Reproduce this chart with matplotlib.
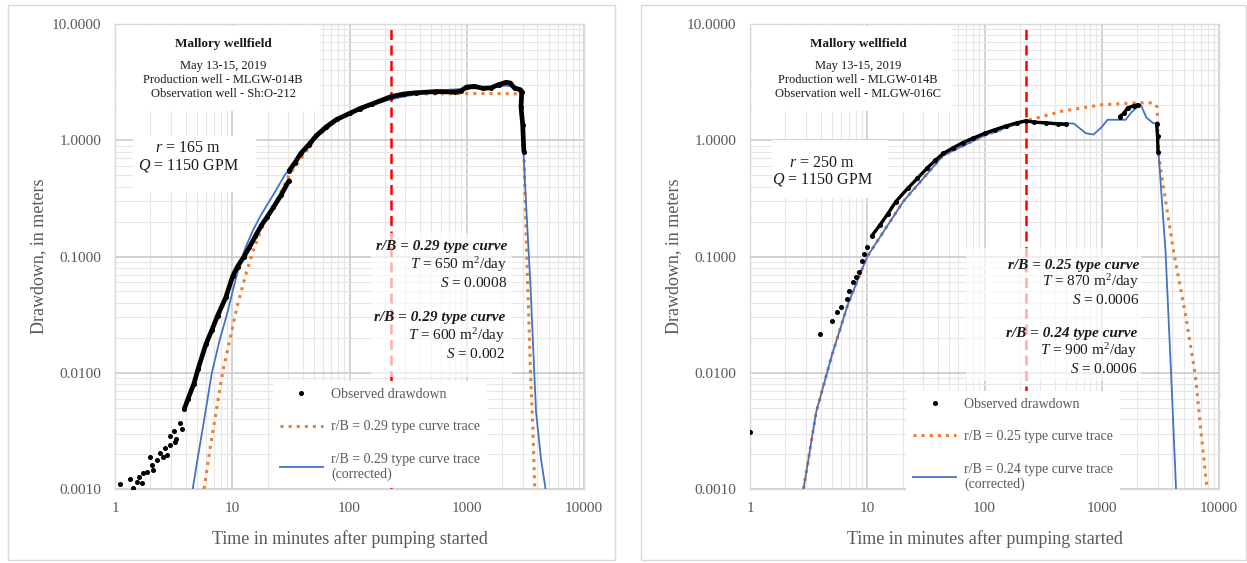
import numpy as np
import matplotlib
matplotlib.use("Agg")
import matplotlib.pyplot as plt
from matplotlib.patches import Rectangle
from matplotlib.lines import Line2D
from matplotlib.ticker import LogLocator, FixedLocator, FuncFormatter, NullFormatter

plt.rcParams['font.family'] = ['Liberation Serif', 'DejaVu Serif']
plt.rcParams['mathtext.fontset'] = 'custom'
plt.rcParams['mathtext.rm'] = 'Liberation Serif'
plt.rcParams['mathtext.it'] = 'Liberation Serif:italic'
plt.rcParams['mathtext.bf'] = 'Liberation Serif:bold'

# ---------------- DATA: left panel (Sh:O-212) ----------------
left_obs_early_t = [1.10, 1.34, 1.42, 1.54, 1.60, 1.70, 1.73, 1.87, 1.97, 2.07, 2.11, 2.28,
                    2.42, 2.57, 2.67, 2.78, 2.94, 2.96, 3.20, 3.25, 3.33, 3.60, 3.74]
left_obs_early_s = [0.00110, 0.00122, 0.00102, 0.00115, 0.00127, 0.00113, 0.00137, 0.00140,
                    0.00188, 0.00161, 0.00146, 0.00177, 0.00204, 0.00188, 0.00225, 0.00196,
                    0.00239, 0.00285, 0.00318, 0.00254, 0.00270, 0.00366, 0.00330]
left_obs_t = [3.9, 4.2, 4.7, 5.1, 5.96, 6.7, 7.5, 8.8, 10.1, 11.1, 12.5, 14.0, 15.7, 17.7,
              19.9, 22.4, 26.1, 30.5, np.nan,
              30.5, 34.2, 38.4, 45, 52.3, 63.6, 77.6, 100, 122, 155, 225, 290, 366, 540,
              795, 890, 1000, 1160, 1370, 1600, 1870, 2160, 2350, 2560, 2850, 2950, 2900,
              3000, 3070]
left_obs_s = [0.00487, 0.0060, 0.0080, 0.0107, 0.0176, 0.0233, 0.031, 0.0444, 0.068, 0.082,
              0.0986, 0.12, 0.149, 0.185, 0.22, 0.264, 0.338, 0.45, np.nan,
              0.546, 0.64, 0.77, 0.918, 1.10, 1.31, 1.51, 1.70, 1.87, 2.05, 2.37, 2.50, 2.56,
              2.62, 2.60, 2.66, 2.87, 2.91, 2.80, 2.82, 3.01, 3.15, 3.11, 2.80, 2.73, 2.62,
              1.94, 1.36, 0.80]
left_orange_t = [5.75, 6.45, 7.25, 8.26, 9.5, 11.1, 13.2, 15.1, 17.7, 22.4, 30.5, 38.4, 52.3,
                 77.6, 100, 155, 225, 340, 540, 1000, 2000, 2900, 3000, 3070, 3150, 3240,
                 3370, 3500, 3670, 3800]
left_orange_s = [0.001, 0.0022, 0.0045, 0.010, 0.0189, 0.0385, 0.073, 0.112, 0.172, 0.264,
                 0.50, 0.69, 1.06, 1.51, 1.72, 2.07, 2.37, 2.49, 2.51, 2.52, 2.52, 2.50, 1.36,
                 0.83, 0.30, 0.11, 0.033, 0.010, 0.0032, 0.001]
left_blue_t = [4.6, 5.1, 5.75, 6.7, 7.8, 9.1, 10.3, 11.5, 13.0, 15.1, 17.7, 22.4, 28.0, 38.4,
               52.3, 77.6, 100, 155, 225, 366, 540, 1000, 1600, 2160, 2560, 2850, 3000, 3070,
               3240, 3500, 3720, 3900, 4300, 4700]
left_blue_s = [0.001, 0.0019, 0.0039, 0.010, 0.019, 0.033, 0.055, 0.084, 0.12, 0.17, 0.23,
               0.34, 0.50, 0.74, 1.06, 1.46, 1.68, 2.00, 2.25, 2.49, 2.68, 2.77, 2.85, 2.95,
               2.87, 2.77, 1.36, 0.67, 0.23, 0.055, 0.0132, 0.0046, 0.0018, 0.001]

# ---------------- DATA: right panel (MLGW-016C) ----------------
right_obs_t = [1.0, 3.97, 5.0, 5.5, 5.97, 6.7, 7.0, 7.5, 8.0, 8.5, 9.0, 9.3, 10.0]
right_obs_s = [0.0031, 0.0217, 0.0277, 0.033, 0.037, 0.0435, 0.050, 0.060, 0.067, 0.074,
               0.092, 0.105, 0.120]
right_obs_dense_t = [10.9, 12.8, 14.9, 17.5, 22.1, 26.8, 32.6, 38, 44.4, 54, 65.5, 79.6, 100.6,
                     122, 154, 188, 225, 266, 336, 425, 497, np.nan,
                     1420, 1540, 1665, 1870, 2020, np.nan,
                     2940, 2990, 3020]
right_obs_dense_s = [0.150, 0.186, 0.231, 0.296, 0.385, 0.47, 0.58, 0.67, 0.77, 0.86, 0.956,
                     1.04, 1.15, 1.23, 1.33, 1.41, 1.47, 1.43, 1.41, 1.38, 1.37, np.nan,
                     1.60, 1.70, 1.90, 1.98, 2.02, np.nan,
                     1.38, 1.08, 0.80]
right_orange_t = [2.86, 3.67, 5.0, 6.85, 10, 20.4, 44.4, 100, 225, 310, 460, 1000, 2000,
                  2750, 2970, 3050, 3200, 4100, 5200, 6300, 7000, 7900]
right_orange_s = [0.001, 0.0046, 0.0142, 0.039, 0.10, 0.30, 0.74, 1.10, 1.47, 1.60, 1.78,
                  2.02, 2.10, 2.10, 1.93, 0.77, 0.54, 0.11, 0.031, 0.0093, 0.0032, 0.001]
right_blue_t = [2.86, 3.67, 5.0, 6.85, 10, 20.4, 44.4, 100, 225, 310, 580, 730, 850, 1000,
                1120, 1360, 1600, 1800, 2000, 2160, 2400, 2750, 2940, 3050, 3500, 3950, 4300]
right_blue_s = [0.001, 0.0046, 0.0142, 0.039, 0.10, 0.30, 0.74, 1.10, 1.47, 1.43, 1.39, 1.15,
                1.12, 1.30, 1.50, 1.50, 1.50, 1.75, 1.92, 2.00, 1.57, 1.40, 1.40, 0.78, 0.11,
                0.0075, 0.001]

marker_time = 225
x_ticks = [1, 10, 100, 1000, 10000]
x_tick_labels = ['1', '10', '100', '1000', '10000']
y_ticks = [0.001, 0.01, 0.1, 1, 10]

panels = [
    dict(left_px=115, obs_early=(left_obs_early_t, left_obs_early_s),
         obs=(left_obs_t, left_obs_s), obs_lw=3.4,
         orange=(left_orange_t, left_orange_s), blue=(left_blue_t, left_blue_s),
         obs_well='Observation well - Sh:O-212', r_text=r'$r$ = $\mathit{165}$ m',
         blocks=[(r'r/B = 0.29 type curve', r'$T$ = 650 m$^2$/day', r'$S$ = 0.0008'),
                 (r'r/B = 0.29 type curve', r'$T$ = 600 m$^2$/day', r'$S$ = 0.002')],
         orange_lbl='r/B = 0.29 type curve trace',
         blue_lbl='r/B = 0.29 type curve trace\n(corrected)',
         title_c=(223, 44), rq_c=(188, 148, 166), ann_x=(507, 505),
         ann_y=(247, 265, 283, 318, 336, 354),
         title_box=(117, 26, 320, 111), rq_box=(133, 136, 256, 192),
         ann_box=(371, 233, 512, 377), leg=(0.322, 0.247), panel_px=(8, 5, 615, 560)),
    dict(left_px=750, obs_early=(right_obs_t, right_obs_s),
         obs=(right_obs_dense_t, right_obs_dense_s), obs_lw=2.4,
         orange=(right_orange_t, right_orange_s), blue=(right_blue_t, right_blue_s),
         obs_well='Observation well - MLGW-016C', r_text=r'$r$ = $\mathit{250}$ m',
         blocks=[(r'r/B = 0.25 type curve', r'$T$ = 870 m$^2$/day', r'$S$ = 0.0006'),
                 (r'r/B = 0.24 type curve', r'$T$ = 900 m$^2$/day', r'$S$ = 0.0006')],
         orange_lbl='r/B = 0.25 type curve trace',
         blue_lbl='r/B = 0.24 type curve trace\n(corrected)',
         title_c=(858, 44), rq_c=(822, 163, 180), ann_x=(1139, 1137),
         ann_y=(265, 282, 300, 334, 351, 369),
         title_box=(752, 26, 952, 111), rq_box=(772, 140, 888, 198),
         ann_box=(966, 248, 1141, 381), leg=(0.318, 0.226), panel_px=(641, 5, 1246, 560)),
]

W, H = 1247, 563
fig = plt.figure(figsize=(W / 100, H / 100), dpi=100)
fig.patch.set_facecolor('white')

AX_W, AX_TOP, AX_BOT = 469, 24, 489
AX_H = AX_BOT - AX_TOP
gray = '#595959'

for p in panels:
    x0, y0, x1, y1 = p['panel_px']
    fig.patches.append(Rectangle((x0 / W, 1 - y1 / H), (x1 - x0) / W, (y1 - y0) / H,
                                 transform=fig.transFigure, facecolor='none',
                                 edgecolor='#d9d9d9', lw=1.0, zorder=0))
    L = p['left_px']
    ax = fig.add_axes([L / W, 1 - AX_BOT / H, AX_W / W, AX_H / H])

    def fx(px, L=L):
        return (px - L) / AX_W

    def fy(py):
        return 1 - (py - AX_TOP) / AX_H

    ax.set_xscale('log')
    ax.set_yscale('log')
    ax.set_xlim(1, 10000)
    ax.set_ylim(0.001, 10)
    ax.set_axisbelow(True)
    ax.xaxis.set_major_locator(FixedLocator(x_ticks))
    ax.set_xticklabels(x_tick_labels)
    ax.yaxis.set_major_locator(FixedLocator(y_ticks))
    ax.yaxis.set_major_formatter(FuncFormatter(lambda v, pos: f'{v:.4f}'))
    ax.xaxis.set_minor_locator(LogLocator(base=10, subs=np.arange(2, 10), numticks=20))
    ax.yaxis.set_minor_locator(LogLocator(base=10, subs=np.arange(2, 10), numticks=20))
    ax.xaxis.set_minor_formatter(NullFormatter())
    ax.yaxis.set_minor_formatter(NullFormatter())
    ax.grid(which='major', color='#cfcfcf', lw=1.3)
    ax.grid(which='minor', color='#e6e6e6', lw=0.8)
    ax.tick_params(which='both', length=0, labelsize=11, labelcolor=gray)
    ax.tick_params(axis='x', pad=9)
    ax.tick_params(axis='y', pad=10)
    for s in ax.spines.values():
        s.set_color('#d9d9d9')
        s.set_linewidth(1.0)

    ax.set_ylabel('Drawdown, in meters', fontsize=13, color=gray)
    ax.set_xlabel('Time in minutes after pumping started', fontsize=13, color=gray)
    ax.yaxis.set_label_coords(fx(L - 76), 0.5)
    ax.yaxis.label.set_va('center')
    ax.xaxis.set_label_coords(0.5, fy(539))
    ax.xaxis.label.set_va('center')

    # white boxes hiding grid
    for (bx0, by0, bx1, by1), alpha, z in [(p['title_box'], 1.0, 2), (p['rq_box'], 1.0, 2),
                                          (p['ann_box'], 0.68, 1.6)]:
        ax.add_patch(Rectangle((fx(bx0), fy(by1)), fx(bx1) - fx(bx0), fy(by0) - fy(by1),
                               transform=ax.transAxes, facecolor='white', edgecolor='none',
                               alpha=alpha, zorder=z))

    ax.axvline(marker_time, color='#ff0000', lw=1.8, ls=(0, (4, 2.2)), zorder=1.5)

    ax.plot(p['orange'][0], p['orange'][1], color='#ed7d31', lw=2.2, ls=':', zorder=3)
    ax.plot(p['blue'][0], p['blue'][1], color='#4472c4', lw=1.3, zorder=3.2)
    ax.plot(p['obs'][0], p['obs'][1], color='black', lw=p['obs_lw'], marker='o', ms=2.6,
            solid_capstyle='round', zorder=4)
    ax.plot(p['obs_early'][0], p['obs_early'][1], color='black', ls='none', marker='o',
            ms=2.6, zorder=4)

    # title block
    tcx, tcy = p['title_c']
    ax.text(fx(tcx), fy(tcy), 'Mallory wellfield', transform=ax.transAxes, ha='center',
            va='center', fontsize=9.5, fontweight='bold', color='#1a1a1a', zorder=5)
    for txt, yy in [('May 13-15, 2019', 66), ('Production well - MLGW-014B', 80),
                    (p['obs_well'], 94)]:
        ax.text(fx(tcx), fy(yy), txt, transform=ax.transAxes, ha='center', va='center',
                fontsize=9, color='#1a1a1a', zorder=5)
    rcx, ry, qy = p['rq_c']
    ax.text(fx(rcx), fy(ry), p['r_text'], transform=ax.transAxes, ha='center', va='center',
            fontsize=11.5, color='#1a1a1a', zorder=5)
    ax.text(fx(rcx), fy(qy), r'$Q$ = 1150 GPM', transform=ax.transAxes, ha='center',
            va='center', fontsize=11.5, color='#1a1a1a', zorder=5)

    # parameter blocks
    ys = p['ann_y']
    for bi, blk in enumerate(p['blocks']):
        xr = fx(p['ann_x'][bi])
        for li, line in enumerate(blk):
            kw = dict(fontweight='bold', style='italic') if li == 0 else {}
            ax.text(xr, fy(ys[bi * 3 + li]), line, transform=ax.transAxes, ha='right',
                    va='center', fontsize=11, color='#1a1a1a', zorder=5, **kw)

    handles = [Line2D([], [], color='black', ls='none', marker='o', ms=2.6),
               Line2D([], [], color='#ed7d31', lw=2.2, ls=':'),
               Line2D([], [], color='#4472c4', lw=1.3)]
    labels = ['Observed drawdown', p['orange_lbl'], p['blue_lbl']]
    leg = ax.legend(handles, labels, loc='upper left', bbox_to_anchor=p['leg'],
                    fontsize=10, labelcolor=gray, frameon=True, facecolor='white',
                    edgecolor='none', fancybox=False, framealpha=1.0, handlelength=3.1,
                    handletextpad=0.6, labelspacing=1.4, borderpad=0.5)
    leg.set_zorder(6)

fig.savefig('out.png', dpi=100, facecolor='white')
